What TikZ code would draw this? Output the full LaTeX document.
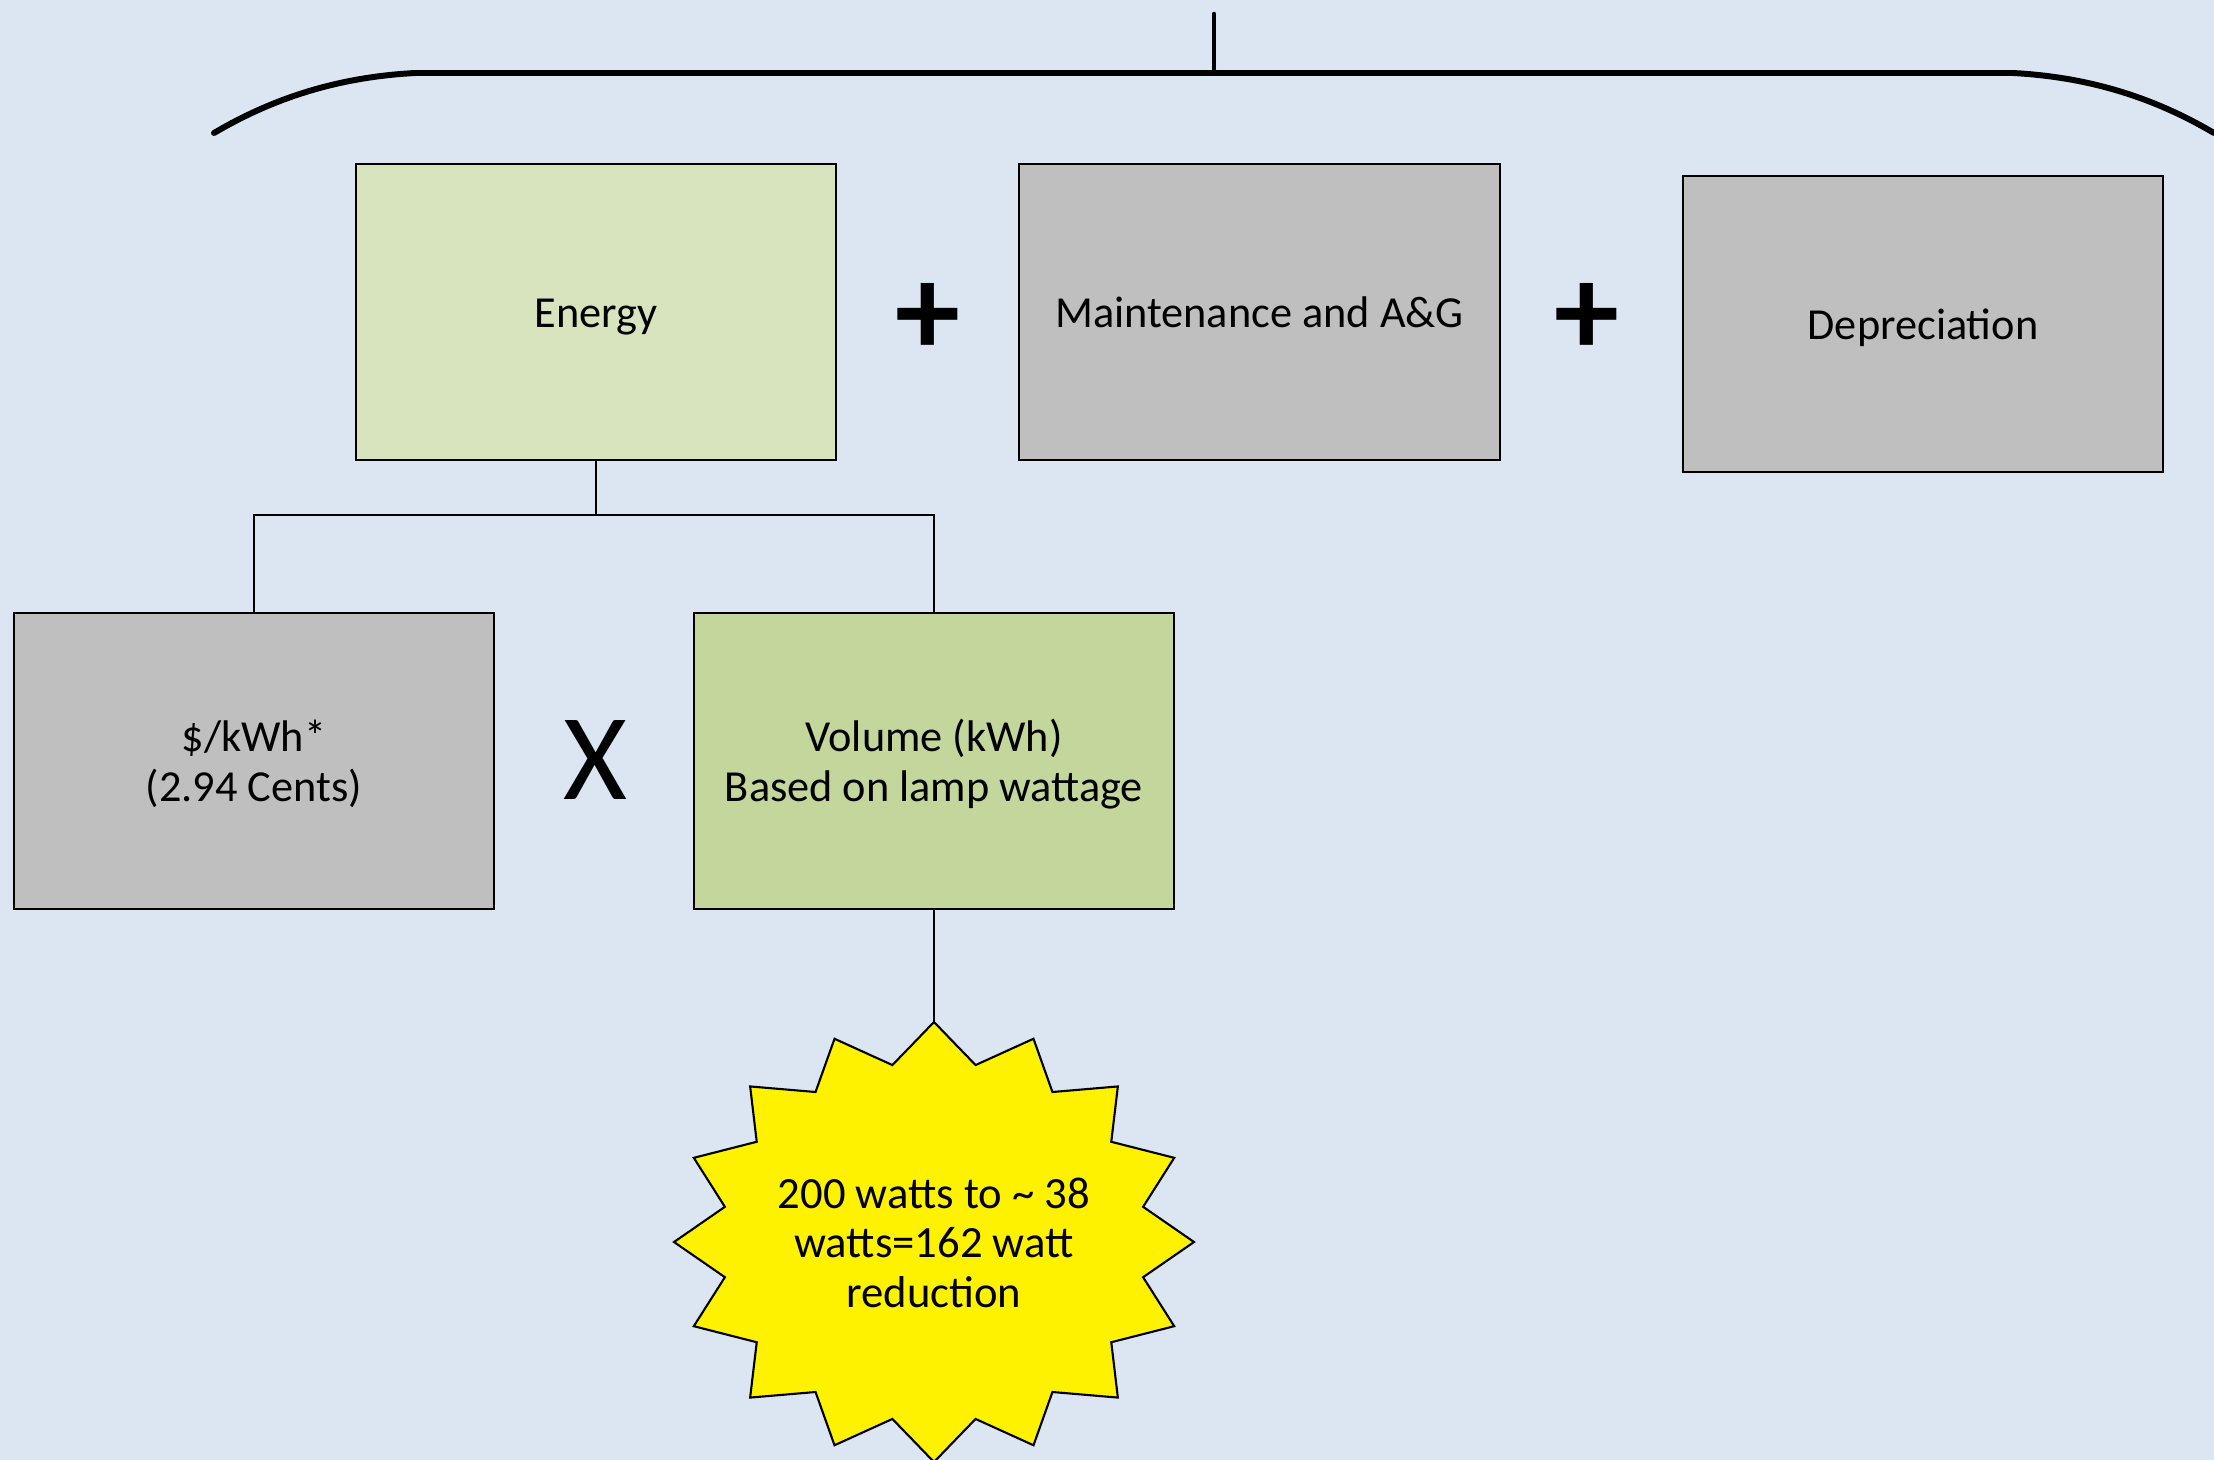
\documentclass[tikz,border=0pt]{standalone}
\usepackage{fontspec}
\setmainfont{Carlito}
\newcommand\lowtext[2]{\raisebox{-#1}[\height][\depth]{\begin{tabular}{@{}c@{}}#2\end{tabular}}}
\begin{document}
\begin{tikzpicture}[x=0.01cm,y=-0.01cm,
  box/.style={draw=black,line width=0.6pt,minimum width=4.8cm,minimum height=2.96cm,inner sep=0pt,
    font=\fontsize{12.6}{14}\selectfont},
  conn/.style={draw=black,line width=0.6pt},
  opsign/.style={inner sep=0pt,font=\fontsize{37}{40}\selectfont},
  starsty/.style={draw=black,line width=0.6pt,fill=yellow,line join=miter}]
\definecolor{bg}{HTML}{DCE6F2}
\definecolor{energyfill}{HTML}{D7E4BD}
\definecolor{greyfill}{HTML}{BFBFBF}
\definecolor{volfill}{HTML}{C3D69B}
\useasboundingbox (0,0) rectangle (2214,1460);
\fill[bg] (0,0) rectangle (2214,1460);
% brace
\draw[line width=1.7pt,line cap=round] (214,133) .. controls (275,97) and (340,77) .. (415,73) -- (2013,73) .. controls (2088,77) and (2153,97) .. (2214,133);
\draw[line width=1.3pt,line cap=round] (1214,14) -- (1214,73);
% top boxes
\node[box,fill=energyfill] (en) at (596,312) {\lowtext{1.7pt}{Energy}};
\node[box,fill=greyfill] (mt) at (1259.5,312) {\lowtext{1.7pt}{Maintenance and A\&G}};
\node[box,fill=greyfill] (dp) at (1923,324) {\lowtext{1.7pt}{Depreciation}};
\node[opsign,font=\fontsize{37}{40}\bfseries] (p1) at (928,319) {+};
\node[opsign,font=\fontsize{37}{40}\bfseries] (p2) at (1587,319) {+};
% lower boxes
\node[box,fill=greyfill] (dk) at (254,761) {\lowtext{1.6pt}{\$/kWh*\\(2.94 Cents)}};
\node[box,fill=volfill] (vol) at (934,761) {\lowtext{1.6pt}{Volume (kWh)\\Based on lamp wattage}};
\node[opsign,font=\fontsize{35}{40}\selectfont] (mx) at (595,760) {X};
% connectors
\coordinate (jn) at (596,515);
\draw[conn] (en.south) -- (jn);
\draw[conn] (dk.north) |- (jn) -| (vol.north);
% star
\draw[starsty] (934,1022) \foreach \k in {1,...,16} {
  -- ({934+0.82*260*cos(-90+\k*22.5-11.25)},{1242+0.82*220*sin(-90+\k*22.5-11.25)})
  -- ({934+260*cos(-90+\k*22.5)},{1242+220*sin(-90+\k*22.5)}) } -- cycle;
\coordinate (startop) at (934,1022);
\node[inner sep=0pt,font=\fontsize{12.7}{14}\selectfont] (star) at (934,1243) {\lowtext{1.4pt}{200 watts to \char`\~{} 38\\watts=162 watt\\reduction}};
\draw[conn] (vol.south) -- (startop);
\end{tikzpicture}
\end{document}
